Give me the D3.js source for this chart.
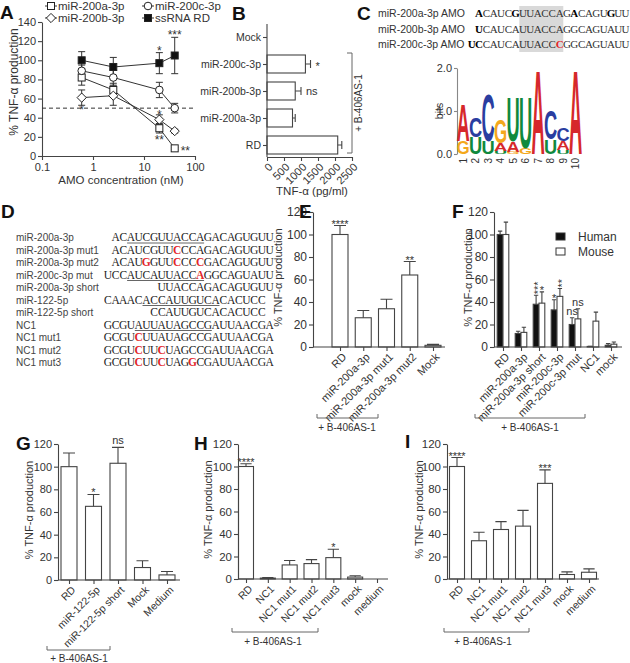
<!DOCTYPE html>
<html><head><meta charset="utf-8">
<script src="https://cdn.jsdelivr.net/npm/d3@7"></script>
<style>body{margin:0;background:#fff}svg{display:block}</style>
</head><body><svg id="fig" width="630" height="663"></svg>
<script>
// ---------- DATA ----------
// Panel A
const aConc = [0.6, 2.5, 20, 40];
const aXTicks = [0.1, 1, 10, 100];
const aYTicks = [0, 20, 40, 60, 80, 100, 120, 140];
const aSeriesNames = ["miR-200a-3p", "miR-200b-3p", "miR-200c-3p", "ssRNA RD"];
const a200a = [82, 69, 29, 8];
const a200aErr = [8, 7, 5, 1];
const a200b = [61, 63, 38, 26];
const a200bErr = [8, 10, 5, 2];
const a200c = [89, 82, 69, 50];
const a200cErr = [6, 8, 8, 5];
const aRD = [100, 93, 97, 105];
const aRDErr = [9, 10, 11, 19];
const aThreshold = 50;
// Panel B
const bCats = ["Mock", "miR-200c-3p", "miR-200b-3p", "miR-200a-3p", "RD"];
const bVals = [0, 1130, 830, 750, 2080];
const bErrs = [0, 150, 170, 80, 120];
const bXTicks = [0, 500, 1000, 1500, 2000, 2500];
const bSig = ["", "*", "ns", "", ""];
// Panel C
const cNames = ["miR-200a-3p AMO", "miR-200b-3p AMO", "miR-200c-3p AMO"];
const cSeqs = ["ACAUCGUUACCAGACAGUGUU", "UCAUCAUUACCAGGCAGUAUU", "UCCAUCAUUACCCGGCAGUAUU"];
const cOffsets = [1, 1, 0];
const cBold = [[0, 5, 13, 18], [0], [0, 1]];
const cRed = [[], [], [12]];
const cHighlightCols = [7, 13];
const logoPos = [1, 2, 3, 4, 5, 6, 7, 8, 9, 10];
const logoYTicks = [0, 1, 2];
const logoStacks = [
  [["G", 0.3], ["A", 0.88]],
  [["U", 0.4], ["C", 0.47]],
  [["U", 0.3], ["C", 1.12]],
  [["U", 0.08], ["A", 0.17], ["G", 0.55]],
  [["G", 0.05], ["A", 0.25], ["U", 1.04]],
  [["G", 0.15], ["U", 1.2]],
  [["A", 2.0]],
  [["U", 0.35], ["C", 0.68]],
  [["U", 0.1], ["A", 0.2], ["C", 0.3]],
  [["A", 2.0]]
];
// Panel D
const dNames = ["miR-200a-3p", "miR-200a-3p mut1", "miR-200a-3p mut2", "miR-200c-3p mut", "miR-200a-3p short", "miR-122-5p", "miR-122-5p short", "NC1", "NC1 mut1", "NC1 mut2", "NC1 mut3"];
const dSeqs = ["ACAUCGUUACCAGACAGUGUU", "ACAUCGUUCCCAGACAGUGUU", "ACAUGGUUCCCCGACAGUGUU", "UCCAUCAUUACCAGGCAGUAUU", "UUACCAGACAGUGUU", "CAAACACCAUUGUCACACUCC", "CCAUUGUCACACUCC", "GCGUAUUAUAGCCGAUUAACGA", "GCGUCUUAUAGCCGAUUAACGA", "GCGUCUUCUAGCCGAUUAACGA", "GCGUCUUCUAGGCGAUUAACGA"];
const dOffsets = [1, 1, 1, 0, 7, 0, 6, 0, 0, 0, 0];
const dRed = [[], [8], [4, 8, 11], [12], [], [], [], [], [4], [4, 7], [4, 7, 11]];
const dUnderline = [[2, 11], null, null, [3, 12], null, [5, 14], null, [4, 13], null, null, null];
// Bar panels
const pctTicks = [0, 20, 40, 60, 80, 100, 120];
const eCats = ["RD", "miR-200a-3p", "miR-200a-3p mut1", "miR-200a-3p mut2", "Mock"];
const eVals = [100, 26, 34, 64, 1.5];
const eErrs = [8, 6.5, 8.5, 12, 0.8];
const eSig = ["****", "", "", "**", ""];
const fCats = ["RD", "miR-200a-3p", "miR-200a-3p short", "miR-200c-3p", "miR-200c-3p mut", "NC1", "mock"];
const fSeries = ["Human", "Mouse"];
const fHuman = [100, 12, 38, 33, 20, 0.5, 1.5];
const fHumanErr = [3, 2, 8, 9, 6, 0.2, 1.5];
const fMouse = [100, 13, 39, 45, 25, 23, 2.5];
const fMouseErr = [11, 4.5, 10, 7, 9, 8, 2];
const fHumanSig = ["", "", "***", "*", "ns", "", ""];
const fMouseSig = ["", "", "*", "**", "ns", "", ""];
const gCats = ["RD", "miR-122-5p", "miR-122-5p short", "Mock", "Medium"];
const gVals = [100, 65, 103, 11, 4.5];
const gErrs = [12, 10.5, 14, 6, 3];
const gSig = ["", "*", "ns", "", ""];
const hCats = ["RD", "NC1", "NC1 mut1", "NC1 mut2", "NC1 mut3", "mock", "medium"];
const hVals = [100, 0.8, 12.5, 13.7, 19, 1.7, 0];
const hErrs = [2.5, 0.4, 4, 3.5, 7.5, 1.2, 0];
const hSig = ["****", "", "", "", "*", "", ""];
const iCats = ["RD", "NC1", "NC1 mut1", "NC1 mut2", "NC1 mut3", "mock", "medium"];
const iVals = [100, 34, 44, 47, 85, 4, 6];
const iErrs = [8, 7.5, 7, 14, 12, 2.3, 3];
const iSig = ["****", "", "", "", "***", "", ""];
const bracketText = "+ B-406AS-1";

// ---------- DRAWING ----------
const FONT = '"Liberation Sans", Arial, Helvetica, sans-serif';
const SERIF = '"Liberation Serif", "Times New Roman", serif';
const INK = "#333", LINE = "#444";
const svg = d3.select("#fig").attr("font-family", FONT);
svg.append("rect").attr("width", 630).attr("height", 663).attr("fill", "#fff");

function txt(x, y, s, fs, opts) {
  opts = opts || {};
  const t = svg.append("text").attr("x", x).attr("y", y).attr("font-size", fs).attr("fill", opts.fill || INK).text(s);
  if (opts.anchor) t.attr("text-anchor", opts.anchor);
  if (opts.bold) t.attr("font-weight", "bold");
  if (opts.rot) t.attr("x", null).attr("y", null).attr("transform", `translate(${x},${y}) rotate(${opts.rot})`);
  return t;
}
function styleAxis(a, fs) {
  a.attr("font-family", FONT).attr("font-size", fs);
  a.selectAll(".domain, .tick line").attr("stroke", LINE).attr("stroke-width", 1.1);
  a.selectAll(".tick text").attr("fill", INK);
}
function panelLabel(s, x, y) { txt(x, y, s, 19, {bold: true, fill: "#111"}); }
function marker(shape, cx, cy, fill) {
  let m;
  if (shape === "square") m = svg.append("rect").attr("x", cx - 3.5).attr("y", cy - 3.5).attr("width", 7).attr("height", 7);
  else if (shape === "circle") m = svg.append("circle").attr("cx", cx).attr("cy", cy).attr("r", 3.8);
  else m = svg.append("path").attr("d", `M${cx},${cy - 4.6}L${cx + 4.6},${cy}L${cx},${cy + 4.6}L${cx - 4.6},${cy}Z`);
  m.attr("fill", fill).attr("stroke", "#222").attr("stroke-width", 1);
}
function bracketBottom(x0, x1, y, tx, ty) {
  svg.append("path").attr("d", `M${x0},${y - 4}V${y}H${x1}V${y - 4}`).attr("fill", "none").attr("stroke", "#666").attr("stroke-width", 1);
  txt(tx, ty, bracketText, 10, {anchor: "middle"});
}

// ===== Panel A =====
(function () {
  const x = d3.scaleLog().domain([0.1, 100]).range([42, 195]);
  const y = d3.scaleLinear().domain([0, 140]).range([156, 22]);
  const xa = svg.append("g").attr("transform", "translate(0,156)")
    .call(d3.axisBottom(x).tickValues(aXTicks).tickFormat(d => String(d)).tickSize(4).tickSizeOuter(0).tickPadding(3));
  styleAxis(xa, 11);
  const ya = svg.append("g").attr("transform", "translate(42,0)")
    .call(d3.axisLeft(y).tickValues(aYTicks).tickSize(4).tickSizeOuter(0).tickPadding(2));
  styleAxis(ya, 11);
  svg.append("line").attr("x1", x(0.1)).attr("x2", x(100)).attr("y1", y(aThreshold)).attr("y2", y(aThreshold))
    .attr("stroke", "#333").attr("stroke-dasharray", "4,3");
  const series = [
    {vals: a200a, errs: a200aErr, shape: "square", fill: "#fff"},
    {vals: a200b, errs: a200bErr, shape: "diamond", fill: "#fff"},
    {vals: a200c, errs: a200cErr, shape: "circle", fill: "#fff"},
    {vals: aRD, errs: aRDErr, shape: "square", fill: "#111"}
  ];
  const line = d3.line().x((d, i) => x(aConc[i])).y(d => y(d));
  series.forEach(s => {
    svg.append("path").attr("d", line(s.vals)).attr("fill", "none").attr("stroke", "#333").attr("stroke-width", 1);
    s.vals.forEach((v, i) => {
      const cx = x(aConc[i]), e = s.errs[i];
      svg.append("path").attr("d", `M${cx},${y(v - e)}V${y(v + e)}M${cx - 3.5},${y(v + e)}H${cx + 3.5}M${cx - 3.5},${y(v - e)}H${cx + 3.5}`)
        .attr("stroke", "#333").attr("fill", "none");
    });
  });
  series.forEach(s => s.vals.forEach((v, i) => marker(s.shape, x(aConc[i]), y(v), s.fill)));
  // significance
  txt(x(aConc[2]), y(aRD[2] + aRDErr[2]) + 2, "*", 12, {anchor: "middle"});
  txt(x(aConc[3]), y(aRD[3] + aRDErr[3]) + 2, "***", 12, {anchor: "middle"});
  txt(x(aConc[2]), y(a200b[2] + a200bErr[2]) + 4, "*", 12, {anchor: "middle"});
  txt(x(aConc[2]), y(a200a[2] - a200aErr[2]) + 11, "**", 12, {anchor: "middle"});
  txt(x(aConc[3]) + 6, y(a200a[3]) + 7, "**", 12);
  txt(x(aConc[0]), y(a200b[0] - a200bErr[0]) + 9, "*", 12, {anchor: "middle"});
  // legend
  const leg = [
    {n: aSeriesNames[0], shape: "square", fill: "#fff", mx: 51, ty: 10},
    {n: aSeriesNames[2], shape: "circle", fill: "#fff", mx: 148, ty: 10},
    {n: aSeriesNames[1], shape: "diamond", fill: "#fff", mx: 51, ty: 22},
    {n: aSeriesNames[3], shape: "square", fill: "#111", mx: 148, ty: 22}
  ];
  leg.forEach(l => {
    svg.append("line").attr("x1", l.mx - 6).attr("x2", l.mx + 6).attr("y1", l.ty - 4).attr("y2", l.ty - 4).attr("stroke", "#333");
    marker(l.shape, l.mx, l.ty - 4, l.fill);
    txt(l.mx + 7, l.ty, l.n, 11.5);
  });
  txt(18, 82, "% TNF-α production", 12, {anchor: "middle", rot: -90});
  txt(121, 184, "AMO concentration (nM)", 11.5, {anchor: "middle"});
  panelLabel("A", 0, 19);
})();

// ===== Panel B =====
(function () {
  const y = d3.scalePoint().domain(bCats).range([37, 145]);
  const x = d3.scaleLinear().domain([0, 2500]).range([267, 352]);
  const bh = 18;
  svg.selectAll(null).data(bCats).join("rect")
    .attr("x", x(0)).attr("y", d => y(d) - bh / 2).attr("height", bh)
    .attr("width", (d, i) => x(bVals[i]) - x(0))
    .attr("fill", "#fff").attr("stroke", LINE).attr("stroke-width", 1.1);
  bCats.forEach((c, i) => {
    if (!bErrs[i]) return;
    const x1 = x(bVals[i]), x2 = x(bVals[i] + bErrs[i]), cy = y(c);
    svg.append("path").attr("d", `M${x1},${cy}H${x2}M${x2},${cy - 4}V${cy + 4}`).attr("stroke", LINE).attr("fill", "none").attr("stroke-width", 1.1);
    if (bSig[i]) txt(x2 + 5, cy + (bSig[i] === "*" ? 6 : 4), bSig[i], 11);
  });
  const ya = svg.append("g").attr("transform", "translate(267,0)")
    .call(d3.axisLeft(y).tickSize(4).tickPadding(2));
  ya.select(".domain").remove();
  svg.append("line").attr("x1", 267).attr("x2", 267).attr("y1", 24).attr("y2", 157).attr("stroke", LINE).attr("stroke-width", 1.1);
  styleAxis(ya, 10.5);
  const xa = svg.append("g").attr("transform", "translate(0,157)")
    .call(d3.axisBottom(x).tickValues(bXTicks).tickFormat(d3.format("d")).tickSize(4).tickSizeOuter(0));
  styleAxis(xa, 11);
  xa.selectAll(".tick text").attr("text-anchor", "end").attr("x", 0).attr("y", 0).attr("dy", "0.35em")
    .attr("transform", "translate(3,8) rotate(-45)");
  txt(312, 195, "TNF-α (pg/ml)", 11.5, {anchor: "middle"});
  svg.append("path").attr("d", "M347,53H352V153H347").attr("fill", "none").attr("stroke", "#666");
  txt(362, 103, bracketText, 10, {anchor: "middle", rot: -90});
  panelLabel("B", 232, 20);
})();

// ===== Panel C =====
(function () {
  const x0 = 468, pitch = 7.33;
  svg.append("rect").attr("x", x0 + cHighlightCols[0] * pitch).attr("y", 6)
    .attr("width", (cHighlightCols[1] - cHighlightCols[0]) * pitch).attr("height", 46).attr("fill", "#d9d9d9");
  cNames.forEach((n, r) => {
    const yb = 17 + r * 15.5;
    txt(378, yb, n, 10.5, {fill: "#333"});
    const t = svg.append("text").attr("y", yb).attr("font-family", SERIF).attr("font-size", 11).attr("fill", "#333").attr("text-anchor", "middle");
    cSeqs[r].split("").forEach((ch, k) => {
      const sp = t.append("tspan").attr("x", x0 + (cOffsets[r] + k + 0.5) * pitch).text(ch);
      if (cBold[r].includes(k)) sp.attr("font-weight", "bold").attr("fill", "#000");
      if (cRed[r].includes(k)) sp.attr("font-weight", "bold").attr("fill", "#e3262a");
    });
  });
  const ly = d3.scaleLinear().domain([0, 2]).range([154, 68]);
  const lx = d3.scalePoint().domain(logoPos).range([463, 575.5]);
  const ya = svg.append("g").attr("transform", "translate(457,0)")
    .call(d3.axisLeft(ly).tickValues(logoYTicks).tickSize(3).tickSizeOuter(0).tickPadding(2));
  styleAxis(ya, 11);
  ya.selectAll(".domain, .tick line").attr("stroke", "#888");
  txt(443, 111, "bits", 10.5, {anchor: "middle", rot: -90});
  logoPos.forEach(p => {
    txt(lx(p) + 3.5, 158, String(p), 10, {anchor: "end", rot: -90});
  });
  const colors = {A: "#d6282b", C: "#2a3da0", G: "#f4a81c", U: "#10893d"};
  logoStacks.forEach((stack, i) => {
    let base = 0;
    const cx = lx(logoPos[i]);
    stack.forEach(([L, h]) => {
      const yb = ly(base), yt = ly(base + h);
      const t = svg.append("text").text(L).attr("font-weight", "bold").attr("font-size", 100)
        .attr("text-anchor", "middle").attr("fill", colors[L]);
      const w = t.node().getComputedTextLength();
      const sx = 12.4 / (w * 0.94), sy = (yb - yt) / 72;
      t.attr("transform", `translate(${cx},${yb}) scale(${sx},${sy})`);
      base += h;
    });
  });
  panelLabel("C", 357, 20);
})();

// ===== Panel D =====
(function () {
  const x0 = 104, pitch = 7.7;
  dNames.forEach((n, r) => {
    const yb = 241 + r * 12.5;
    txt(16, yb, n, 10, {fill: "#444"});
    const t = svg.append("text").attr("y", yb).attr("font-family", SERIF).attr("font-size", 11.5).attr("fill", "#222").attr("text-anchor", "middle");
    dSeqs[r].split("").forEach((ch, k) => {
      const sp = t.append("tspan").attr("x", x0 + (dOffsets[r] + k + 0.5) * pitch).text(ch);
      if (dRed[r].includes(k)) sp.attr("font-weight", "bold").attr("fill", "#e3262a");
    });
    if (dUnderline[r]) {
      const [a, b] = dUnderline[r];
      svg.append("line").attr("x1", x0 + (dOffsets[r] + a) * pitch).attr("x2", x0 + (dOffsets[r] + b + 1) * pitch)
        .attr("y1", yb + 2).attr("y2", yb + 2).attr("stroke", "#666").attr("stroke-width", 1);
    }
  });
  panelLabel("D", 1, 218);
})();

// ===== generic bar panel =====
function barPanel(o) {
  const x = d3.scalePoint().domain(o.cats).range([o.c0, o.c1]);
  const y = d3.scaleLinear().domain([0, 120]).range([o.yb, o.yt]);
  o.series.forEach(s => {
    svg.append("g").selectAll("rect").data(s.vals).join("rect")
      .attr("x", (d, i) => x(o.cats[i]) + s.dx - o.bw / 2).attr("width", o.bw)
      .attr("y", d => y(d)).attr("height", d => o.yb - y(d))
      .attr("fill", s.fill).attr("stroke", LINE).attr("stroke-width", 1.1);
    s.vals.forEach((v, i) => {
      const cx = x(o.cats[i]) + s.dx;
      const e = s.errs[i];
      if (e) {
        const ye = y(v + e), cw = o.bw * 0.75;
        svg.append("path").attr("d", `M${cx},${y(v)}V${ye}M${cx - cw / 2},${ye}H${cx + cw / 2}`)
          .attr("stroke", LINE).attr("fill", "none").attr("stroke-width", 1.1);
      }
      const sg = s.sig ? s.sig[i] : "";
      if (sg) {
        const top = y(v + e);
        if (o.vertStars && sg.length > 1 && sg[0] === "*") {
          txt(cx + 6, top - 1, sg, 11, {anchor: "start", rot: -90});
        } else if (sg === "ns") {
          txt(cx, top - 3, sg, 11, {anchor: "middle"});
        } else {
          txt(cx, top + 2, sg, 11, {anchor: "middle"});
        }
      }
    });
  });
  const ya = svg.append("g").attr("transform", `translate(${o.ax0},0)`)
    .call(d3.axisLeft(y).tickValues(pctTicks).tickSize(4).tickSizeOuter(0).tickPadding(2));
  styleAxis(ya, o.tickFs);
  svg.append("line").attr("x1", o.ax0).attr("x2", o.ax1).attr("y1", o.yb).attr("y2", o.yb).attr("stroke", LINE).attr("stroke-width", 1.1);
  const xa = svg.append("g").attr("transform", `translate(0,${o.yb})`)
    .call(d3.axisBottom(x).tickSize(4).tickSizeOuter(0));
  xa.select(".domain").remove();
  styleAxis(xa, o.labFs);
  xa.selectAll(".tick text").attr("text-anchor", "end").attr("x", 0).attr("y", 0).attr("dy", "0.35em")
    .attr("transform", "translate(4,8) rotate(-45)");
  txt(o.titleX, (o.yb + o.yt) / 2 - 2, "% TNF-α production", 11, {anchor: "middle", rot: -90});
}

// ===== Panel E =====
barPanel({cats: eCats, c0: 340, c1: 433, ax0: 313, ax1: 445, yb: 347, yt: 212, bw: 16, tickFs: 12, labFs: 11,
  titleX: 282, series: [{vals: eVals, errs: eErrs, sig: eSig, dx: 0, fill: "#fff"}]});
bracketBottom(317, 378, 418, 347, 431);
panelLabel("E", 299, 218);

// ===== Panel F =====
barPanel({cats: fCats, c0: 503, c1: 611, ax0: 494, ax1: 622, yb: 347, yt: 212, bw: 5.8, tickFs: 12, labFs: 11,
  titleX: 472, vertStars: true, series: [
    {vals: fHuman, errs: fHumanErr, sig: fHumanSig, dx: -2.9, fill: "#111"},
    {vals: fMouse, errs: fMouseErr, sig: fMouseSig, dx: 2.9, fill: "#fff"}]});
bracketBottom(475, 585, 418, 530, 431);
[[fSeries[0], "#111", 241], [fSeries[1], "#fff", 256]].forEach(([n, f, yb]) => {
  svg.append("rect").attr("x", 556).attr("y", yb - 8).attr("width", 9).attr("height", 7).attr("fill", f).attr("stroke", "#333");
  txt(578, yb, n, 12);
});
panelLabel("F", 452, 218);

// ===== Panel G =====
barPanel({cats: gCats, c0: 69, c1: 167, ax0: 58, ax1: 180, yb: 580, yt: 444, bw: 16, tickFs: 11, labFs: 10.5,
  titleX: 33, series: [{vals: gVals, errs: gErrs, sig: gSig, dx: 0, fill: "#fff"}]});
bracketBottom(47, 110, 650, 79, 662);
panelLabel("G", 16, 450);

// ===== Panel H =====
barPanel({cats: hCats, c0: 246, c1: 377, ax0: 238, ax1: 388, yb: 579, yt: 444, bw: 15, tickFs: 11.5, labFs: 10.5,
  titleX: 212, series: [{vals: hVals, errs: hErrs, sig: hSig, dx: 0, fill: "#fff"}]});
bracketBottom(232, 318, 632, 273, 645);
panelLabel("H", 194, 450);

// ===== Panel I =====
barPanel({cats: iCats, c0: 457, c1: 589, ax0: 447, ax1: 599, yb: 579, yt: 444, bw: 15, tickFs: 11.5, labFs: 10.5,
  titleX: 423, series: [{vals: iVals, errs: iErrs, sig: iSig, dx: 0, fill: "#fff"}]});
bracketBottom(444, 529, 632, 483, 645);
panelLabel("I", 405, 448);
</script></body></html>
